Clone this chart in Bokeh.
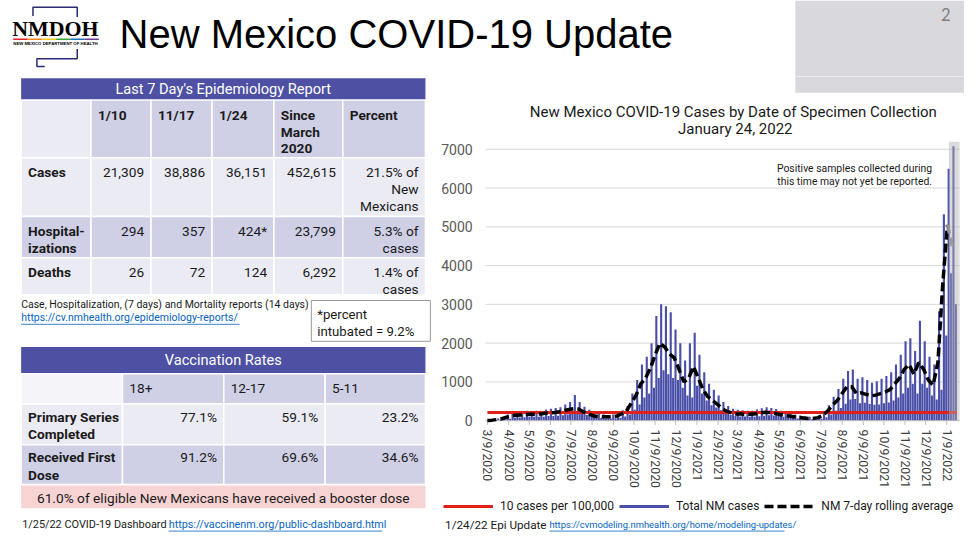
import pandas as pd
from bokeh.plotting import figure
from bokeh.layouts import column, row
from bokeh.models import Range1d, FixedTicker, Legend, LegendItem, Label, BoxAnnotation
from bokeh.core.properties import value
from bokeh.embed import file_html
from bokeh.resources import INLINE

# ---------------- data ----------------
slide_title = "New Mexico COVID-19 Update"
slide_number = "2"
chart_title = "New Mexico COVID-19 Cases by Date of Specimen Collection"
chart_subtitle = "January 24, 2022"
chart_note = ["Positive samples collected during", "this time may not yet be reported."]

epi_header = "Last 7 Day's Epidemiology Report"
epi_columns = [["1/10"], ["11/17"], ["1/24"], ["Since", "March", "2020"], ["Percent"]]
epi_row_labels = [["Cases"], ["Hospital-", "izations"], ["Deaths"]]
epi_cases = ["21,309", "38,886", "36,151", "452,615"]
epi_hospitalizations = ["294", "357", "424*", "23,799"]
epi_deaths = ["26", "72", "124", "6,292"]
epi_percent = [["21.5% of", "New", "Mexicans"], ["5.3% of", "cases"], ["1.4% of", "cases"]]
epi_source = "Case, Hospitalization, (7 days) and Mortality reports (14 days)"
epi_link = "https://cv.nmhealth.org/epidemiology-reports/"
intubated_note = ["*percent", "intubated = 9.2%"]

vacc_header = "Vaccination Rates"
vacc_columns = ["18+", "12-17", "5-11"]
vacc_row_labels = [["Primary Series", "Completed"], ["Received First", "Dose"]]
vacc_primary = ["77.1%", "59.1%", "23.2%"]
vacc_first_dose = ["91.2%", "69.6%", "34.6%"]
booster_note = "61.0% of eligible New Mexicans have received a booster dose"

footer_left = ["1/25/22 COVID-19 Dashboard", "https://vaccinenm.org/public-dashboard.html"]
footer_right = ["1/24/22 Epi Update", "https://cvmodeling.nmhealth.org/home/modeling-updates/"]

first_week = "2020-03-09"
rolling_avg = [5, 15, 30, 50, 90, 120, 140, 150, 160, 165,
               170, 170, 190, 200, 210, 230, 260, 290, 310, 300,
               230, 180, 130, 110, 100, 100, 105, 120, 180, 250,
               450, 650, 950, 1100, 1350, 1700, 2000, 1900, 1720, 1620,
               1320, 1000, 1100, 1400, 1100, 800, 620, 520, 420, 310,
               240, 200, 175, 170, 165, 165, 180, 200, 220, 210,
               190, 160, 140, 120, 100, 85, 70, 60, 60, 80,
               140, 250, 400, 520, 700, 870, 880, 700, 720, 680,
               640, 660, 700, 740, 800, 950, 1100, 1330, 1450, 1200,
               1500, 1330, 1050, 920, 1500, 3500, 5050, 4500]
cases_high = [15, 30, 55, 90, 160, 190, 220, 230, 260, 250,
              260, 250, 290, 310, 330, 350, 420, 480, 660, 480,
              360, 280, 210, 170, 160, 150, 160, 190, 270, 380,
              700, 1050, 1450, 1650, 2000, 2700, 3000, 2950, 2800, 2350,
              2000, 1550, 2000, 2270, 1700, 1250, 950, 800, 650, 480,
              380, 310, 280, 270, 260, 260, 290, 320, 350, 330,
              300, 260, 220, 190, 160, 135, 115, 100, 100, 130,
              230, 400, 620, 820, 1080, 1280, 1320, 1080, 1120, 1050,
              980, 1020, 1080, 1150, 1250, 1450, 1700, 2050, 2125, 1800,
              2575, 2050, 1650, 1450, 2825, 5325, 6500, 7075]
cases_low = [5, 10, 20, 30, 50, 70, 80, 90, 100, 100,
             100, 100, 120, 120, 130, 140, 160, 190, 200, 190,
             150, 110, 90, 70, 60, 60, 65, 75, 110, 160,
             280, 420, 600, 700, 850, 1100, 1300, 1200, 1100, 1050,
             850, 650, 600, 900, 700, 520, 400, 340, 270, 200,
             150, 130, 110, 110, 105, 105, 115, 130, 140, 135,
             120, 100, 90, 75, 60, 55, 45, 40, 40, 50,
             90, 160, 260, 330, 440, 550, 560, 450, 460, 430,
             410, 420, 450, 470, 520, 600, 700, 850, 950, 700,
             950, 850, 650, 550, 800, 2200, 3800, 3000]
threshold_10_per_100k = 210
unreported_from = "2022-01-12"
y_ticks = [0, 1000, 2000, 3000, 4000, 5000, 6000, 7000]
x_tick_labels = ["3/9/2020", "4/9/2020", "5/9/2020", "6/9/2020", "7/9/2020", "8/9/2020",
                 "9/9/2020", "10/9/2020", "11/9/2020", "12/9/2020", "1/9/2021", "2/9/2021",
                 "3/9/2021", "4/9/2021", "5/9/2021", "6/9/2021", "7/9/2021", "8/9/2021",
                 "9/9/2021", "10/9/2021", "11/9/2021", "12/9/2021", "1/9/2022"]
legend_labels = ["10 cases per 100,000", "Total NM cases", "NM 7-day rolling average"]

# ---------------- layout constants ----------------
W, H = 964, 534
SX, SY = W / 980.0, H / 550.0
TOP_H = 76
LEFT_W = 433
HEAD_H = 65
LEG_Y = 493
BOT_Y = 513
MID_H = BOT_Y - TOP_H
CHART_H = LEG_Y - TOP_H - HEAD_H
LEG_H = BOT_Y - LEG_Y
BOT_H = H - BOT_Y
RIGHT_W = W - LEFT_W

# chart frame: slide y 145.2 (top) .. 440 (bottom); value 0 sits at slide y 433
Y_TOP, Y_BOT = 7200, -175
FRAME_TOP_S = (TOP_H + HEAD_H) / SY
FRAME_H = round((440.0 - FRAME_TOP_S) * SY)

BLUE = "#4a4fa8"
HDR = "#4e51a3"
LAV = "#cfd0e6"
LIGHT = "#ebebf4"
PINK = "#f8d3d3"
LINK = "#0563c1"
INK = "#1a1a1a"
RED = "#e0201b"


def F(size):
    return value(f"{size * 0.975:.1f}px")


def static_fig(px0, py0, w, h):
    x0, y0 = px0 / SX, py0 / SY
    p = figure(width=w, height=h, x_range=Range1d(x0, x0 + w / SX),
               y_range=Range1d(y0 + h / SY, y0), x_axis_type=None, y_axis_type=None,
               toolbar_location=None, output_backend="svg", min_border=0,
               title_location=None, outline_line_color=None,
               background_fill_color="white", border_fill_color="white")
    return p


def txt(p, x, y, s, size, color=INK, align="left", bold=False, font="Roboto"):
    p.text(x=[x], y=[y], text=[s], text_font=value(font), text_font_size=F(size),
           text_color=color, text_align=align, text_baseline="middle",
           text_font_style="bold" if bold else "normal")


# ---------------- top strip: logo, title, page box ----------------
top = static_fig(0, 0, W, TOP_H)
top.quad(left=[808], right=[985], top=[0], bottom=[80], fill_color="#d9d8dc", line_color=None)
txt(top, 961, 14, slide_number, 17, color="#7f7f7f", align="center", font="Lato")
top.multi_line(xs=[[33, 33, 78, 78], [78, 78, 37, 37, 45]],
               ys=[[16, 7, 7, 17], [50, 60, 60, 68, 68]], line_color="#2b2d73", line_width=1.5)
txt(top, 12, 29, "NMDOH", 22.5, color="#000000", bold=True, font="Liberation Serif")
rainbow = ["#e4202a", "#f58220", "#f2c81c", "#3aa935", "#1d71b8", "#6b3a96"]
for i, c in enumerate(rainbow):
    top.line(x=[13 + i * 14.5, 13 + (i + 1) * 14.5], y=[40, 40], line_color=c, line_width=1.5)
txt(top, 13, 44.5, "NEW MEXICO DEPARTMENT OF HEALTH", 4.4, color="#000000", bold=True,
    font="Liberation Sans")
txt(top, 121, 34, slide_title, 41, color="#000000", font="Liberation Sans")

# ---------------- left column: tables ----------------
lf = static_fig(0, TOP_H, LEFT_W, MID_H)

t1x = [21, 92, 153, 215, 278, 348, 432]
t1y = [80, 102.5, 162, 222.5, 265, 303]
lf.quad(left=[t1x[0]], right=[t1x[-1]], top=[t1y[0]], bottom=[t1y[1]], fill_color=HDR, line_color=None)
L, R, T, B, C = [], [], [], [], []
for r in range(4):
    for c in range(6):
        L.append(t1x[c]); R.append(t1x[c + 1]); T.append(t1y[r + 1]); B.append(t1y[r + 2])
        if r == 0:
            C.append(LIGHT if c == 0 else LAV)
        elif r == 2:
            C.append(LAV)
        else:
            C.append(LIGHT)
lf.quad(left=L, right=R, top=T, bottom=B, fill_color=C, line_color="white", line_width=1.5)
txt(lf, (t1x[0] + t1x[-1]) / 2, 91, epi_header, 15, color="white", align="center")
LS = 17.3
for c, lines in enumerate(epi_columns):
    for k, s in enumerate(lines):
        txt(lf, t1x[c + 1] + 7, 118 + LS * k, s, 14, bold=True)
epi_values = [epi_cases, epi_hospitalizations, epi_deaths]
for r in range(3):
    y0 = t1y[r + 2] + 15
    for k, s in enumerate(epi_row_labels[r]):
        txt(lf, 28, y0 + LS * k, s, 14, bold=True)
    for c, s in enumerate(epi_values[r]):
        txt(lf, t1x[c + 2] - 7, y0, s, 14, align="right")
    for k, s in enumerate(epi_percent[r]):
        txt(lf, t1x[6] - 7, y0 + LS * k, s, 14, align="right")

txt(lf, 21, 313, epi_source, 10.8)
txt(lf, 21, 327, epi_link, 10.8, color=LINK)
lf.line(x=[21, 243], y=[333.5, 333.5], line_color=LINK, line_width=0.8)
lf.quad(left=[316], right=[437], top=[309], bottom=[351], fill_color="white",
        line_color="#9a9a9a", line_width=1)
txt(lf, 322, 323, intubated_note[0], 13.5)
txt(lf, 322, 341, intubated_note[1], 13.5)

t2x = [21, 124, 227, 330, 432]
t2y = [357, 384.5, 415.5, 457.5, 498.5]
lf.quad(left=[t2x[0]], right=[t2x[-1]], top=[t2y[0]], bottom=[t2y[1]], fill_color=HDR, line_color=None)
L, R, T, B, C = [], [], [], [], []
for r in range(3):
    for c in range(4):
        L.append(t2x[c]); R.append(t2x[c + 1]); T.append(t2y[r + 1]); B.append(t2y[r + 2])
        if r == 0:
            C.append("#f4f4f9" if c == 0 else LAV)
        elif r == 1:
            C.append(LIGHT)
        else:
            C.append(LAV)
lf.quad(left=L, right=R, top=T, bottom=B, fill_color=C, line_color="white", line_width=1.5)
lf.quad(left=[t2x[0]], right=[t2x[-1]], top=[499.5], bottom=[523], fill_color=PINK, line_color=None)
txt(lf, (t2x[0] + t2x[-1]) / 2, 370.5, vacc_header, 15, color="white", align="center")
for c, s in enumerate(vacc_columns):
    txt(lf, t2x[c + 1] + 7, 399.5, s, 14)
vacc_values = [vacc_primary, vacc_first_dose]
for r in range(2):
    y0 = t2y[r + 2] + 13
    for k, s in enumerate(vacc_row_labels[r]):
        txt(lf, 28, y0 + 18 * k, s, 14, bold=True)
    for c, s in enumerate(vacc_values[r]):
        txt(lf, t2x[c + 2] - 7, y0, s, 14, align="right")
txt(lf, (t2x[0] + t2x[-1]) / 2, 512, booster_note, 14, align="center")

# ---------------- chart heading strip ----------------
head = static_fig(LEFT_W, TOP_H, RIGHT_W, HEAD_H)
head.quad(left=[808], right=[985], top=[70], bottom=[95], fill_color="#d9d8dc", line_color=None)
txt(head, 745, 115, chart_title, 15.4, align="center")
txt(head, 747, 132, chart_subtitle, 15.4, align="center")

# ---------------- chart ----------------
weeks = pd.date_range(first_week, periods=len(rolling_avg), freq="7D")
T0 = pd.Timestamp(first_week)
PX_PER_DAY = 467.0 / 671.0          # slide pixels per day (3/9/2020 at x=495, 1/9/2022 at x=962)


def slide_date(sx):
    return T0 + pd.Timedelta(days=(sx - 495.0) / PX_PER_DAY)


chart = figure(width=RIGHT_W, height=CHART_H, x_axis_type="datetime",
               x_range=Range1d(slide_date(LEFT_W / SX), slide_date(980.0)),
               y_range=Range1d(Y_BOT, Y_TOP), y_axis_location=None,
               toolbar_location=None, output_backend="svg", title_location=None,
               min_border_left=0, min_border_right=0, min_border_top=0,
               min_border_bottom=CHART_H - FRAME_H,
               outline_line_color=None, background_fill_color="white", border_fill_color="white")
chart.xgrid.visible = False
chart.ygrid.visible = False

g0, g1 = slide_date(493.0), slide_date(975.0)
chart.segment(x0=[g0] * (len(y_ticks) - 1), y0=y_ticks[1:], x1=[g1] * (len(y_ticks) - 1),
              y1=y_ticks[1:], line_color="#d9d9d9", line_width=1)
chart.text(x=[slide_date(480.0)] * len(y_ticks), y=y_ticks, text=[str(t) for t in y_ticks],
           text_align="right", text_baseline="middle", text_font=value("Roboto"),
           text_font_size=value("14px"), text_color="#595959")

day_ms = 86400000
chart.vbar(x=weeks + pd.Timedelta(hours=42), top=cases_high, width=3.1 * day_ms,
           fill_color=BLUE, line_color=None)
chart.vbar(x=weeks + pd.Timedelta(hours=126), top=cases_low, width=3.1 * day_ms,
           fill_color=BLUE, line_color=None)

tick_dates = [pd.to_datetime(s, format="%m/%d/%Y") for s in x_tick_labels]
chart.segment(x0=[g0], y0=[0], x1=[g1], y1=[0], line_color="#bfbfbf", line_width=1)
chart.segment(x0=tick_dates, y0=[0] * len(tick_dates), x1=tick_dates, y1=[-110] * len(tick_dates),
              line_color="#bfbfbf", line_width=1)
chart.line(x=[weeks[0], weeks[-1] + pd.Timedelta(days=7)],
           y=[threshold_10_per_100k, threshold_10_per_100k], line_color=RED, line_width=3)
chart.line(x=weeks[:-1], y=rolling_avg[:-1], line_color="black", line_width=3.5, line_dash="9 4")
chart.line(x=weeks[-2:], y=rolling_avg[-2:], line_color="#8c8c8c", line_width=3.5, line_dash="9 4")

chart.add_layout(BoxAnnotation(left=pd.Timestamp(unreported_from).value / 1e6,
                               right=g1.value / 1e6, bottom=0,
                               fill_color="#b0b0b0", fill_alpha=0.45, line_color=None))


def chart_y(sy):
    return Y_TOP - (sy - FRAME_TOP_S) * (Y_TOP - Y_BOT) / (440.0 - FRAME_TOP_S)


for k, s in enumerate(chart_note):
    chart.add_layout(Label(x=slide_date(947.0).value / 1e6, y=chart_y(173 + 13.5 * k), text=s,
                           text_align="right", text_baseline="middle", text_font="Roboto",
                           text_font_size="10.4px", text_color=INK))

tick_ms = [d.value / 1e6 for d in tick_dates]
chart.xaxis.ticker = FixedTicker(ticks=tick_ms)
chart.xaxis.major_label_overrides = {t: s for t, s in zip(tick_ms, x_tick_labels)}
chart.xaxis.major_label_orientation = "vertical"
chart.xaxis.major_label_text_font = "Roboto"
chart.xaxis.major_label_text_font_size = "12.3px"
chart.xaxis.major_label_text_color = "#404040"
chart.xaxis.major_label_standoff = 2
chart.xaxis.axis_line_color = None
chart.xaxis.major_tick_line_color = None
chart.xaxis.major_tick_out = 0
chart.xaxis.major_tick_in = 0
chart.xaxis.minor_tick_line_color = None

# ---------------- legend strip ----------------
leg = static_fig(LEFT_W, LEG_Y, RIGHT_W, LEG_H)
lr = leg.line(x=[0], y=[0], line_color=RED, line_width=3)
lb = leg.line(x=[0], y=[0], line_color=BLUE, line_width=3)
lk = leg.line(x=[0], y=[0], line_color="black", line_width=3.5, line_dash="9 4")
legend = Legend(items=[LegendItem(label=legend_labels[0], renderers=[lr]),
                       LegendItem(label=legend_labels[1], renderers=[lb]),
                       LegendItem(label=legend_labels[2], renderers=[lk])],
                orientation="horizontal", location=(10, 0), glyph_width=50, glyph_height=14,
                label_standoff=7, spacing=5, padding=0, margin=0, border_line_color=None,
                background_fill_alpha=0, label_text_font="Roboto", label_text_font_size="12px",
                label_text_color=INK, label_height=14)
leg.add_layout(legend, "center")

# ---------------- bottom strip: sources ----------------
bot = static_fig(0, BOT_Y, W, BOT_H)
txt(bot, 22, 540, footer_left[0], 11.2)
txt(bot, 171, 540, footer_left[1], 11.1, color=LINK)
bot.line(x=[171, 388], y=[546.5, 546.5], line_color=LINK, line_width=0.8)
txt(bot, 452, 540, footer_right[0], 12)
txt(bot, 558, 540, footer_right[1], 9.6, color=LINK)
bot.line(x=[558, 797], y=[546.5, 546.5], line_color=LINK, line_width=0.8)

layout = column(top, row(lf, column(head, chart, leg)), bot)
open("out.html", "w").write(file_html(layout, INLINE))
